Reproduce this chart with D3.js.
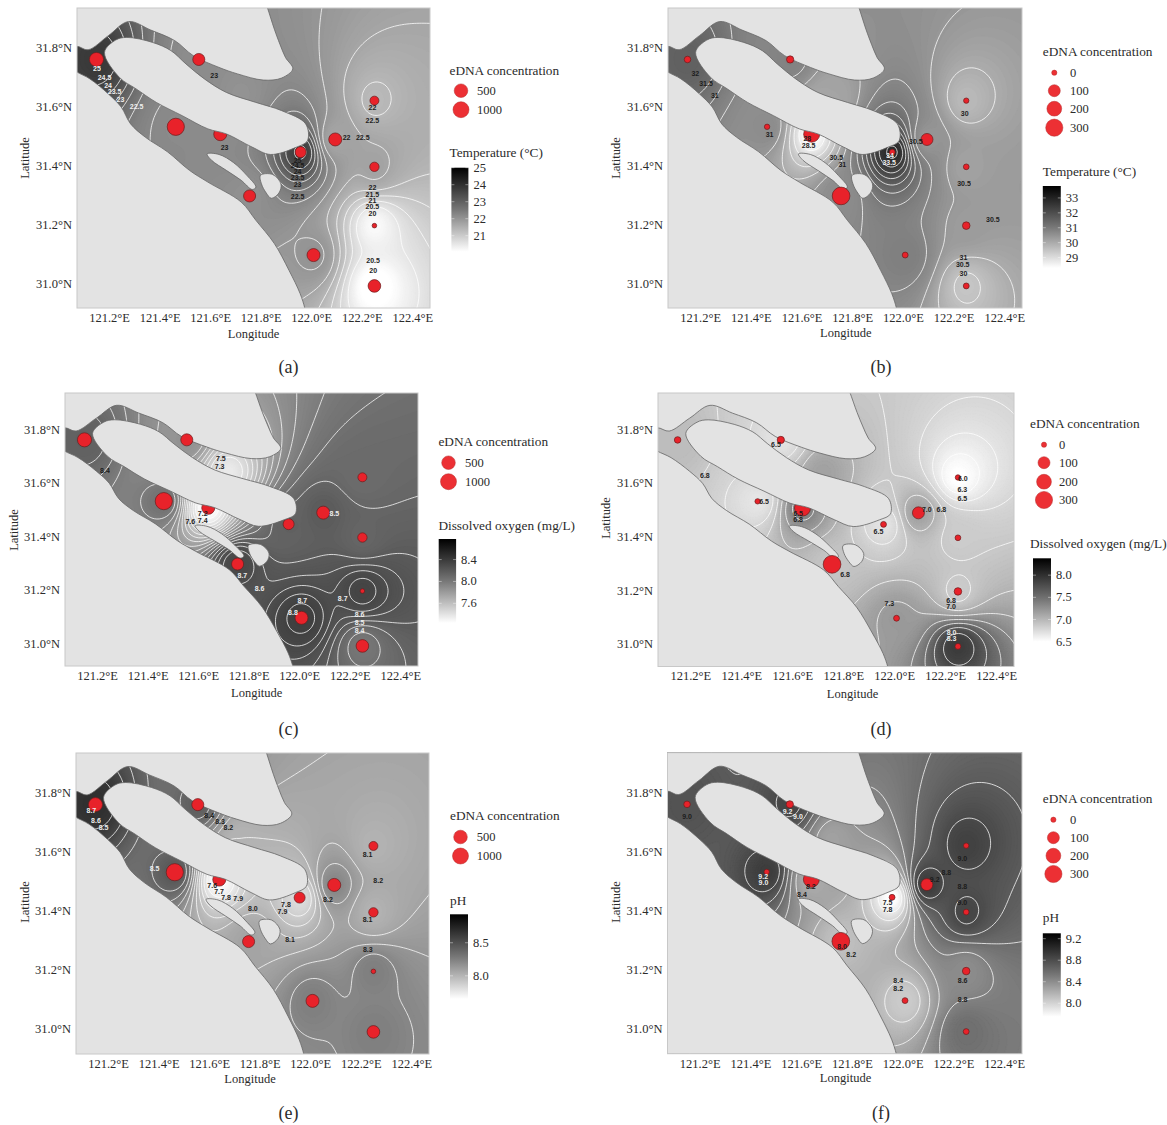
<!DOCTYPE html>
<html>
<head>
<meta charset="utf-8">
<script src="https://cdn.jsdelivr.net/npm/d3@7"></script>
<style>
  html, body { margin: 0; background: #fff; }
  text { font-family: "Liberation Serif", serif; fill: #2b2b2b; }
  .contour-label { font-family: "Liberation Sans", sans-serif; font-size: 7px; font-weight: bold; text-anchor: middle; opacity: 0.98; }
</style>
</head>
<body>
<svg id="viz" width="1167" height="1125"></svg>
<script>
const lonTicks = [121.2, 121.4, 121.6, 121.8, 122.0, 122.2, 122.4];
const latTicks = [31.0, 31.2, 31.4, 31.6, 31.8];
const lonExtent = [121.073, 122.47];
const latExtent = [30.915, 31.935];

const stationLon = [121.15, 121.555, 121.464, 121.64, 121.958, 122.095, 122.25, 122.25, 121.756, 122.25, 122.009, 122.25];
const stationLat = [31.76, 31.76, 31.531, 31.506, 31.445, 31.488, 31.62, 31.395, 31.296, 31.195, 31.095, 30.99];
// extra sampling site on the island shore, it has no eDNA marker in the figure
const hiddenLon = 121.72;
const hiddenLat = 31.64;

// eDNA concentration at each station
const concentrationWarm = [600, 420, 1250, 470, 365, 470, 260, 280, 420, 30, 470, 450];
const concentrationCool = [20, 30, 3, 250, 10, 100, 2, 8, 320, 35, 10, 10];

// environmental value at each station, last entry is the hidden site
const temperatureA = [25.8, 22.8, 22.9, 22.9, 25.6, 22.0, 21.4, 22.1, 22.7, 19.4, 22.6, 19.0, 22.6];
const temperatureB = [32.5, 31.2, 30.8, 28.0, 34.6, 30.5, 29.7, 30.25, 30.8, 30.4, 31.3, 29.4, 30.2];
const oxygenC = [8.45, 8.0, 8.3, 7.0, 8.45, 8.5, 8.35, 8.4, 8.8, 8.85, 8.95, 8.25, 7.2];
const oxygenD = [6.9, 6.3, 6.25, 7.6, 6.3, 7.2, 5.8, 6.7, 6.8, 6.7, 7.3, 8.4, 7.2];
const phE = [8.85, 8.55, 8.6, 7.45, 7.7, 8.3, 8.0, 8.0, 8.1, 8.35, 8.35, 8.35, 8.0];
const phF = [9.1, 9.25, 9.35, 8.2, 7.4, 9.35, 9.3, 9.25, 8.0, 8.5, 7.9, 8.78, 8.3];

// contour labels: text, lon, lat, white?
const labelsA = [["25",121.152,31.73,1],["24.5",121.182,31.70,1],["24",121.196,31.673,1],["23.5",121.222,31.651,1],["23",121.245,31.625,1],["22.5",121.309,31.599,1],["23",121.616,31.707,0],["23",121.657,31.46,0],["25",121.946,31.417,0],["24.5",121.946,31.399,0],["24",121.946,31.379,0],["23.5",121.946,31.358,0],["23",121.946,31.334,0],["22.5",121.946,31.294,0],["22",122.14,31.496,0],["22.5",122.204,31.496,0],["22",122.242,31.598,0],["22.5",122.242,31.553,0],["22",122.242,31.324,0],["21.5",122.242,31.302,0],["21",122.242,31.28,0],["20.5",122.242,31.26,0],["20",122.242,31.235,0],["20.5",122.245,31.077,0],["20",122.245,31.044,0]];
const labelsB = [["32",121.181,31.713,0],["31.5",121.223,31.678,0],["31",121.258,31.637,0],["31",121.474,31.506,0],["28",121.623,31.491,0],["28.5",121.628,31.467,0],["30.5",121.737,31.428,0],["31",121.761,31.402,0],["34",121.949,31.432,1],["33.5",121.946,31.411,1],["30.5",122.051,31.48,0],["30",122.244,31.576,0],["30.5",122.241,31.34,0],["30.5",122.355,31.215,0],["31",122.239,31.087,0],["30.5",122.236,31.064,0],["30",122.239,31.031,0]];
const labelsC = [["8.4",121.231,31.645,0],["7.5",121.69,31.692,0],["7.3",121.685,31.66,0],["7.2",121.618,31.484,0],["7.4",121.618,31.459,0],["7.6",121.569,31.455,0],["8.5",122.139,31.484,1],["8.7",121.775,31.254,1],["8.6",121.843,31.203,1],["8.7",122.012,31.158,1],["8.8",121.975,31.115,1],["8.7",122.172,31.169,1],["8.6",122.239,31.109,1],["8.5",122.239,31.077,1],["8.4",122.239,31.048,1]];
const labelsD = [["6.8",121.257,31.629,0],["6.5",121.536,31.743,0],["6.5",121.489,31.531,0],["6.5",121.623,31.487,0],["6.8",121.623,31.463,0],["6.5",121.938,31.417,0],["7.0",122.128,31.499,0],["6.8",122.185,31.499,0],["6.0",122.269,31.615,0],["6.3",122.267,31.575,0],["6.5",122.267,31.541,0],["6.8",121.807,31.258,0],["7.3",121.981,31.149,0],["6.8",122.223,31.161,0],["7.0",122.223,31.139,0],["8.0",122.225,31.043,1],["8.3",122.225,31.018,1]];
const labelsE = [["8.7",121.134,31.741,1],["8.6",121.152,31.706,1],["8.5",121.182,31.681,1],["8.4",121.6,31.723,0],["8.3",121.643,31.703,0],["8.2",121.676,31.682,0],["8.5",121.384,31.542,1],["7.6",121.612,31.486,0],["7.7",121.639,31.464,0],["7.8",121.667,31.446,0],["7.9",121.715,31.441,0],["8.0",121.773,31.407,0],["7.8",121.904,31.42,0],["7.9",121.89,31.397,0],["8.2",122.07,31.438,0],["8.1",122.227,31.592,0],["8.2",122.269,31.504,0],["8.1",122.227,31.371,0],["8.1",121.92,31.302,0],["8.3",122.228,31.268,0]];
const labelsF = [["9.0",121.15,31.72,0],["9.2",121.546,31.737,1],["9.0",121.587,31.719,1],["9.2",121.45,31.516,1],["9.0",121.451,31.495,1],["8.2",121.638,31.481,0],["8.4",121.603,31.455,0],["7.5",121.94,31.428,0],["7.8",121.94,31.405,0],["9.2",122.126,31.505,0],["8.8",122.172,31.53,0],["9.0",122.235,31.578,0],["8.8",122.235,31.481,0],["9.0",122.235,31.428,0],["8.0",121.761,31.277,0],["8.2",121.797,31.252,0],["8.4",121.982,31.162,0],["8.2",121.982,31.135,0],["8.6",122.236,31.163,0],["8.8",122.236,31.097,0]];

// land outlines as lon, lat
const northBank = [[121.0,32.0],[121.0,31.77],[121.069,31.805],[121.117,31.793],[121.197,31.841],[121.277,31.889],[121.365,31.86],[121.46,31.824],[121.533,31.773],[121.635,31.733],[121.708,31.711],[121.81,31.69],[121.883,31.697],[121.927,31.728],[121.898,31.767],[121.876,31.812],[121.854,31.863],[121.825,31.94],[121.8,32.0]];
const southBank = [[121.0,30.85],[121.0,31.76],[121.069,31.719],[121.124,31.694],[121.197,31.643],[121.248,31.598],[121.285,31.541],[121.343,31.496],[121.431,31.446],[121.518,31.383],[121.591,31.343],[121.723,31.275],[121.781,31.213],[121.854,31.134],[121.912,31.043],[121.956,30.964],[121.975,30.913],[121.99,30.85]];
const mainIsland = [[121.182,31.784],[121.226,31.826],[121.27,31.835],[121.372,31.818],[121.445,31.79],[121.504,31.745],[121.577,31.694],[121.664,31.648],[121.781,31.614],[121.883,31.586],[121.978,31.541],[121.985,31.484],[121.942,31.462],[121.839,31.437],[121.766,31.462],[121.664,31.507],[121.591,31.524],[121.489,31.569],[121.387,31.614],[121.307,31.66],[121.241,31.699]];
const longIsland = [[121.588,31.439],[121.635,31.437],[121.693,31.409],[121.745,31.366],[121.781,31.326],[121.766,31.318],[121.723,31.349],[121.664,31.383],[121.606,31.417]];
const smallIsland = [[121.799,31.366],[121.847,31.369],[121.88,31.337],[121.872,31.306],[121.842,31.288],[121.822,31.306],[121.803,31.337]];

const warmRadius = d3.scaleLinear().domain([0, 500, 1000, 1500]).range([2, 6.8, 8, 9.2]);
const coolRadius = d3.scaleLinear().domain([0, 100, 200, 300]).range([2.6, 6, 7.4, 8.6]);

const svg = d3.select("#viz");
const defs = svg.append("defs");

const barGradient = defs.append("linearGradient").attr("id", "bar").attr("x1", 0).attr("x2", 0).attr("y1", 0).attr("y2", 1);
barGradient.append("stop").attr("offset", 0).attr("stop-color", "#000");
barGradient.append("stop").attr("offset", 0.5).attr("stop-color", "#777");
barGradient.append("stop").attr("offset", 1).attr("stop-color", "#fff");

// inverse distance weighting over the stations, same as the maps in the figure
function idw(values, lon, lat) {
  let sum = 0;
  let weight = 0;
  for (let i = 0; i < values.length; i++) {
    const sLon = i < stationLon.length ? stationLon[i] : hiddenLon;
    const sLat = i < stationLat.length ? stationLat[i] : hiddenLat;
    const d2 = (lon - sLon) ** 2 + (lat - sLat) ** 2 + 1e-6;
    const w = 1 / Math.pow(d2, 1.2);
    sum += values[i] * w;
    weight += w;
  }
  return sum / weight;
}

function drawPanel(p) {
  const x = d3.scaleLinear().domain(lonExtent).range([p.left, p.right]);
  const y = d3.scaleLinear().domain(latExtent).range([p.bottom, p.top]);
  const g = svg.append("g");

  defs.append("clipPath").attr("id", "clip" + p.letter)
    .append("rect").attr("x", p.left).attr("y", p.top)
    .attr("width", p.right - p.left).attr("height", p.bottom - p.top);

  const plot = g.append("g").attr("clip-path", `url(#clip${p.letter})`);

  // grid runs past the plot so the edges of the contours stay clipped away
  const nx = 150, ny = 130;
  const gridLon = d3.scaleLinear().domain([0, nx]).range([lonExtent[0] - 0.03, lonExtent[1] + 0.03]);
  const gridLat = d3.scaleLinear().domain([0, ny]).range([latExtent[1] + 0.03, latExtent[0] - 0.03]);
  const grid = new Float64Array(nx * ny);
  for (let j = 0; j < ny; j++) {
    for (let i = 0; i < nx; i++) {
      grid[j * nx + i] = idw(p.values, gridLon(i + 0.5), gridLat(j + 0.5));
    }
  }

  const toPixels = d3.geoPath(d3.geoTransform({
    point(px, py) { this.stream.point(x(gridLon(px)), y(gridLat(py))); }
  }));

  const gray = d3.scaleLinear().domain(p.fillDomain).range(p.fillGrays).clamp(true);
  const [minV, maxV] = d3.extent(grid);
  const fineLevels = d3.range(minV, maxV, (maxV - minV) / 120);
  plot.selectAll("path.fill")
    .data(d3.contours().size([nx, ny]).thresholds(fineLevels)(grid))
    .join("path")
    .attr("class", "fill")
    .attr("d", toPixels)
    .attr("fill", d => gray(d.value))
    .attr("stroke", d => gray(d.value))
    .attr("stroke-width", 0.4);

  plot.selectAll("path.line")
    .data(d3.contours().size([nx, ny]).thresholds(d3.range(p.contourStart, maxV, p.contourStep))(grid))
    .join("path")
    .attr("class", "line")
    .attr("d", toPixels)
    .attr("fill", "none")
    .attr("stroke", "#fff")
    .attr("stroke-opacity", 0.85)
    .attr("stroke-width", 0.9);

  const coast = d3.line().x(d => x(d[0])).y(d => y(d[1])).curve(d3.curveCatmullRomClosed.alpha(0.5));
  const drawLand = (shapes, cls) => plot.selectAll("path." + cls)
    .data(shapes)
    .join("path")
    .attr("class", cls)
    .attr("d", coast)
    .attr("fill", "#e3e3e3")
    .attr("stroke", "#666")
    .attr("stroke-width", 0.8);

  drawLand([northBank, southBank, longIsland, smallIsland], "landLow");

  plot.selectAll("circle")
    .data(stationLon.map((lon, i) => ({ lon, lat: stationLat[i], c: p.concentration[i] })))
    .join("circle")
    .attr("cx", d => x(d.lon))
    .attr("cy", d => y(d.lat))
    .attr("r", d => p.radius(d.c))
    .attr("fill", "#e8222a")
    .attr("stroke", "#6a1c1c")
    .attr("stroke-width", 0.7);

  // the big island covers the markers on its shore
  drawLand([mainIsland], "landHigh");

  g.append("rect")
    .attr("x", p.left).attr("y", p.top)
    .attr("width", p.right - p.left).attr("height", p.bottom - p.top)
    .attr("fill", "none").attr("stroke", "#c8c8c8");

  plot.selectAll("text")
    .data(p.labels)
    .join("text")
    .attr("class", "contour-label")
    .attr("x", d => x(d[1]))
    .attr("y", d => y(d[2]) + 2.5)
    .style("fill", d => d[3] ? "#f2f2f2" : "#1c1c1c")
    .text(d => d[0]);

  const xAxis = d3.axisBottom(x).tickValues(lonTicks).tickSize(0).tickPadding(5).tickFormat(d => d.toFixed(1) + "°E");
  const yAxis = d3.axisLeft(y).tickValues(latTicks).tickSize(0).tickPadding(5).tickFormat(d => d.toFixed(1) + "°N");
  const xg = g.append("g").attr("transform", `translate(0,${p.bottom})`).call(xAxis);
  const yg = g.append("g").attr("transform", `translate(${p.left},0)`).call(yAxis);
  xg.select(".domain").remove();
  yg.select(".domain").remove();
  xg.selectAll("text").attr("font-size", 12.5).attr("font-family", "Liberation Serif");
  yg.selectAll("text").attr("font-size", 12.5).attr("font-family", "Liberation Serif");

  g.append("text").attr("x", p.lonTitle[0]).attr("y", p.lonTitle[1]).attr("text-anchor", "middle")
    .attr("font-size", 12.5).text("Longitude");
  g.append("text").attr("transform", `translate(${p.latTitle[0]},${p.latTitle[1]}) rotate(-90)`)
    .attr("text-anchor", "middle").attr("font-size", 12.5).text("Latitude");
  g.append("text").attr("x", p.tag[0]).attr("y", p.tag[1]).attr("text-anchor", "middle")
    .attr("font-size", 18).text(`(${p.letter})`);

  // size legend
  const leg = p.sizeLegend;
  g.append("text").attr("x", leg.x).attr("y", leg.y).attr("font-size", 13.3).text("eDNA concentration");
  leg.levels.forEach((level, i) => {
    g.append("circle").attr("cx", leg.circleX).attr("cy", leg.rows[i]).attr("r", p.radius(level))
      .attr("fill", "#ec3034").attr("stroke", "#b52a2a").attr("stroke-width", 0.5);
    g.append("text").attr("x", leg.labelX).attr("y", leg.rows[i] + 4).attr("font-size", 12.5).text(level);
  });

  // colour bar
  const bar = p.bar;
  g.append("text").attr("x", bar.titleX).attr("y", bar.titleY).attr("font-size", 13.3).text(p.barTitle);
  g.append("rect").attr("x", bar.left).attr("y", bar.top).attr("width", bar.width).attr("height", bar.bottom - bar.top)
    .attr("fill", "url(#bar)");
  const barScale = d3.scaleLinear().domain(p.barDomain).range([bar.bottom, bar.top]);
  p.barTicks.forEach(t => {
    g.append("text").attr("x", bar.left + bar.width + 5).attr("y", barScale(t) + 4).attr("font-size", 12.5)
      .text(p.barFormat(t));
    [bar.left, bar.left + bar.width - 3].forEach(tx => {
      g.append("line").attr("x1", tx).attr("x2", tx + 3).attr("y1", barScale(t)).attr("y2", barScale(t))
        .attr("stroke", "#fff").attr("stroke-opacity", 0.7).attr("stroke-width", 0.6);
    });
  });
}

const fixed1 = d => d.toFixed(1);
const plain = d => String(d);

drawPanel({
  letter: "a", left: 77, right: 430, top: 8, bottom: 308,
  values: temperatureA, concentration: concentrationWarm, radius: warmRadius, labels: labelsA,
  fillDomain: [19.2, 22.7, 25.8], fillGrays: ["#ffffff", "#8f8f8f", "#383838"],
  contourStart: 20, contourStep: 0.5,
  lonTitle: [253.5, 338], latTitle: [29, 158], tag: [288.5, 373],
  sizeLegend: { x: 449.5, y: 75, circleX: 461, labelX: 477, levels: [500, 1000], rows: [90.7, 109.7] },
  bar: { titleX: 449.5, titleY: 157, left: 451.4, width: 17, top: 167.7, bottom: 251.7 },
  barTitle: "Temperature (°C)", barDomain: [20.06, 25], barTicks: [21, 22, 23, 24, 25], barFormat: plain
});
drawPanel({
  letter: "b", left: 668, right: 1022, top: 8, bottom: 308,
  values: temperatureB, concentration: concentrationCool, radius: coolRadius, labels: labelsB,
  fillDomain: [28, 30.7, 34.6], fillGrays: ["#ffffff", "#8e8e8e", "#2a2a2a"],
  contourStart: 28.5, contourStep: 0.5,
  lonTitle: [845.8, 337], latTitle: [620, 158], tag: [881, 373],
  sizeLegend: { x: 1042.8, y: 56, circleX: 1054.3, labelX: 1070, levels: [0, 100, 200, 300], rows: [72.7, 90.7, 108.7, 127.7] },
  bar: { titleX: 1042.8, titleY: 176, left: 1042.8, width: 18, top: 186, bottom: 268 },
  barTitle: "Temperature (°C)", barDomain: [28.3, 33.8], barTicks: [29, 30, 31, 32, 33], barFormat: plain
});
drawPanel({
  letter: "c", left: 65, right: 418, top: 393, bottom: 666,
  values: oxygenC, concentration: concentrationWarm, radius: warmRadius, labels: labelsC,
  fillDomain: [7.0, 8.5, 8.95], fillGrays: ["#ffffff", "#5a5a5a", "#3e3e3e"],
  contourStart: 7.1, contourStep: 0.1,
  lonTitle: [256.7, 697], latTitle: [18, 530], tag: [288.5, 735],
  sizeLegend: { x: 438.4, y: 446, circleX: 448.5, labelX: 465, levels: [500, 1000], rows: [462.7, 481.7] },
  bar: { titleX: 438.4, titleY: 530, left: 438.7, width: 17.4, top: 539, bottom: 623 },
  barTitle: "Dissolved oxygen (mg/L)", barDomain: [7.24, 8.776], barTicks: [7.6, 8.0, 8.4], barFormat: fixed1
});
drawPanel({
  letter: "d", left: 658, right: 1014, top: 393, bottom: 666.5,
  values: oxygenD, concentration: concentrationCool, radius: coolRadius, labels: labelsD,
  fillDomain: [5.8, 6.75, 8.4], fillGrays: ["#ffffff", "#c8c8c8", "#3a3a3a"],
  contourStart: 6.0, contourStep: 0.25,
  lonTitle: [852.5, 698], latTitle: [610, 518], tag: [881, 735],
  sizeLegend: { x: 1030, y: 428, circleX: 1044, labelX: 1059, levels: [0, 100, 200, 300], rows: [444.7, 462.7, 481.7, 500] },
  bar: { titleX: 1030, titleY: 548, left: 1033, width: 18, top: 558.3, bottom: 641.7 },
  barTitle: "Dissolved oxygen (mg/L)", barDomain: [6.5, 8.38], barTicks: [6.5, 7.0, 7.5, 8.0], barFormat: fixed1
});
drawPanel({
  letter: "e", left: 76, right: 429, top: 753, bottom: 1054,
  values: phE, concentration: concentrationWarm, radius: warmRadius, labels: labelsE,
  fillDomain: [7.45, 8.25, 8.85], fillGrays: ["#ffffff", "#8e8e8e", "#2e2e2e"],
  contourStart: 7.6, contourStep: 0.1,
  lonTitle: [250, 1083], latTitle: [29, 902], tag: [288.5, 1119],
  sizeLegend: { x: 450, y: 820, circleX: 460.5, labelX: 476.7, levels: [500, 1000], rows: [837, 856] },
  bar: { titleX: 450, titleY: 905, left: 450, width: 18, top: 914.3, bottom: 999 },
  barTitle: "pH", barDomain: [7.65, 8.93], barTicks: [8.0, 8.5], barFormat: fixed1
});
drawPanel({
  letter: "f", left: 667.5, right: 1022, top: 752.7, bottom: 1053.7,
  values: phF, concentration: concentrationCool, radius: coolRadius, labels: labelsF,
  fillDomain: [7.4, 8.8, 9.35], fillGrays: ["#ffffff", "#6c6c6c", "#3c3c3c"],
  contourStart: 7.6, contourStep: 0.2,
  lonTitle: [845.5, 1082], latTitle: [620, 902], tag: [881, 1119],
  sizeLegend: { x: 1042.8, y: 803, circleX: 1053.4, labelX: 1070, levels: [0, 100, 200, 300], rows: [819.7, 837.7, 855.7, 874] },
  bar: { titleX: 1042.8, titleY: 922, left: 1042.8, width: 18, top: 933.3, bottom: 1016.7 },
  barTitle: "pH", barDomain: [7.75, 9.3], barTicks: [8.0, 8.4, 8.8, 9.2], barFormat: fixed1
});
</script>
</body>
</html>
